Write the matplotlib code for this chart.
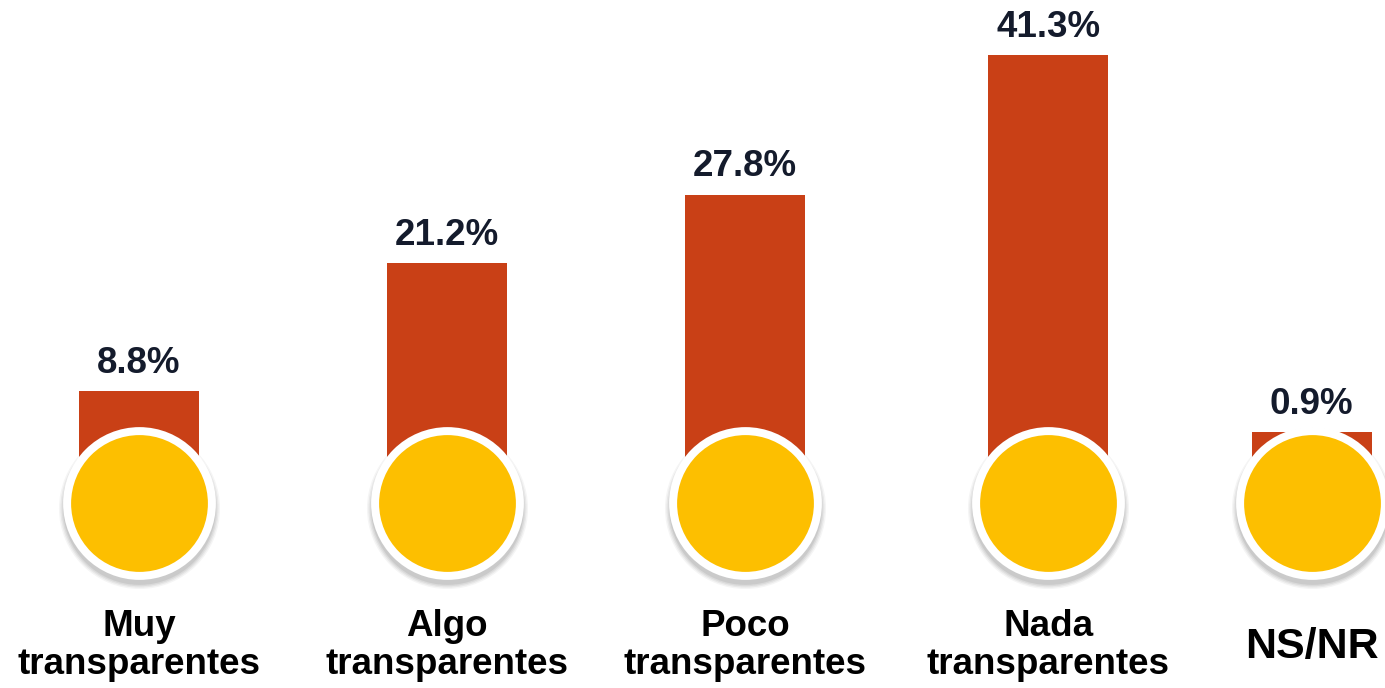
import matplotlib
matplotlib.use("Agg")
import matplotlib.pyplot as plt

# data
categories = ["Muy\ntransparentes", "Algo\ntransparentes", "Poco\ntransparentes",
              "Nada\ntransparentes", "NS/NR"]
values = [8.8, 21.2, 27.8, 41.3, 0.9]
value_labels = ["8.8%", "21.2%", "27.8%", "41.3%", "0.9%"]

# layout (slot positions, the last one sits a bit closer)
x_pos = [0, 1.016, 2.0, 3.0, 3.87]
min_visible = 4.8  # tiny bars still peek out above the circle

bar_color = "#C94016"
circle_color = "#FDBF00"
text_color = "#141B2C"

plt.rcParams['font.family'] = ['Liberation Sans', 'DejaVu Sans']

fig = plt.figure(figsize=(13.85, 6.88), dpi=100)
ax = fig.add_axes([0, 0, 1, 1])
ax.set_xlim(-0.459, 4.112)
ax.set_ylim(-19.9, 46.6)
ax.axis('off')

heights = [max(v, min_visible) for v in values]
ax.bar(x_pos, heights, width=0.396, color=bar_color, zorder=1)

# value labels above bars
for x, h, lab in zip(x_pos, heights, value_labels):
    ax.text(x, h + 1.75, lab, ha='center', va='baseline', fontsize=26.5,
            fontweight='bold', color=text_color, zorder=5)

# circles: soft shadow, white ring, yellow disc
circle_y = -2.05
for k, a in enumerate([0.04, 0.05, 0.06, 0.07]):
    ax.scatter(x_pos, [circle_y - 0.45] * len(x_pos), s=(110 + 6 - 2 * k) ** 2,
               color='black', alpha=a, linewidths=0, zorder=2)
ax.scatter(x_pos, [circle_y] * len(x_pos), s=110 ** 2, color='white',
           linewidths=0, zorder=3)
ax.scatter(x_pos, [circle_y] * len(x_pos), s=98.5 ** 2, color=circle_color,
           linewidths=0, zorder=4)

# category labels
for x, cat in zip(x_pos, categories):
    if "\n" in cat:
        ax.text(x, -15.8, cat, ha='center', va='center', fontsize=26.5,
                fontweight='bold', color='black', linespacing=1.1)
    else:
        ax.text(x, -15.9, cat, ha='center', va='center', fontsize=31,
                fontweight='bold', color='black')

fig.savefig("out.png", dpi=100)
